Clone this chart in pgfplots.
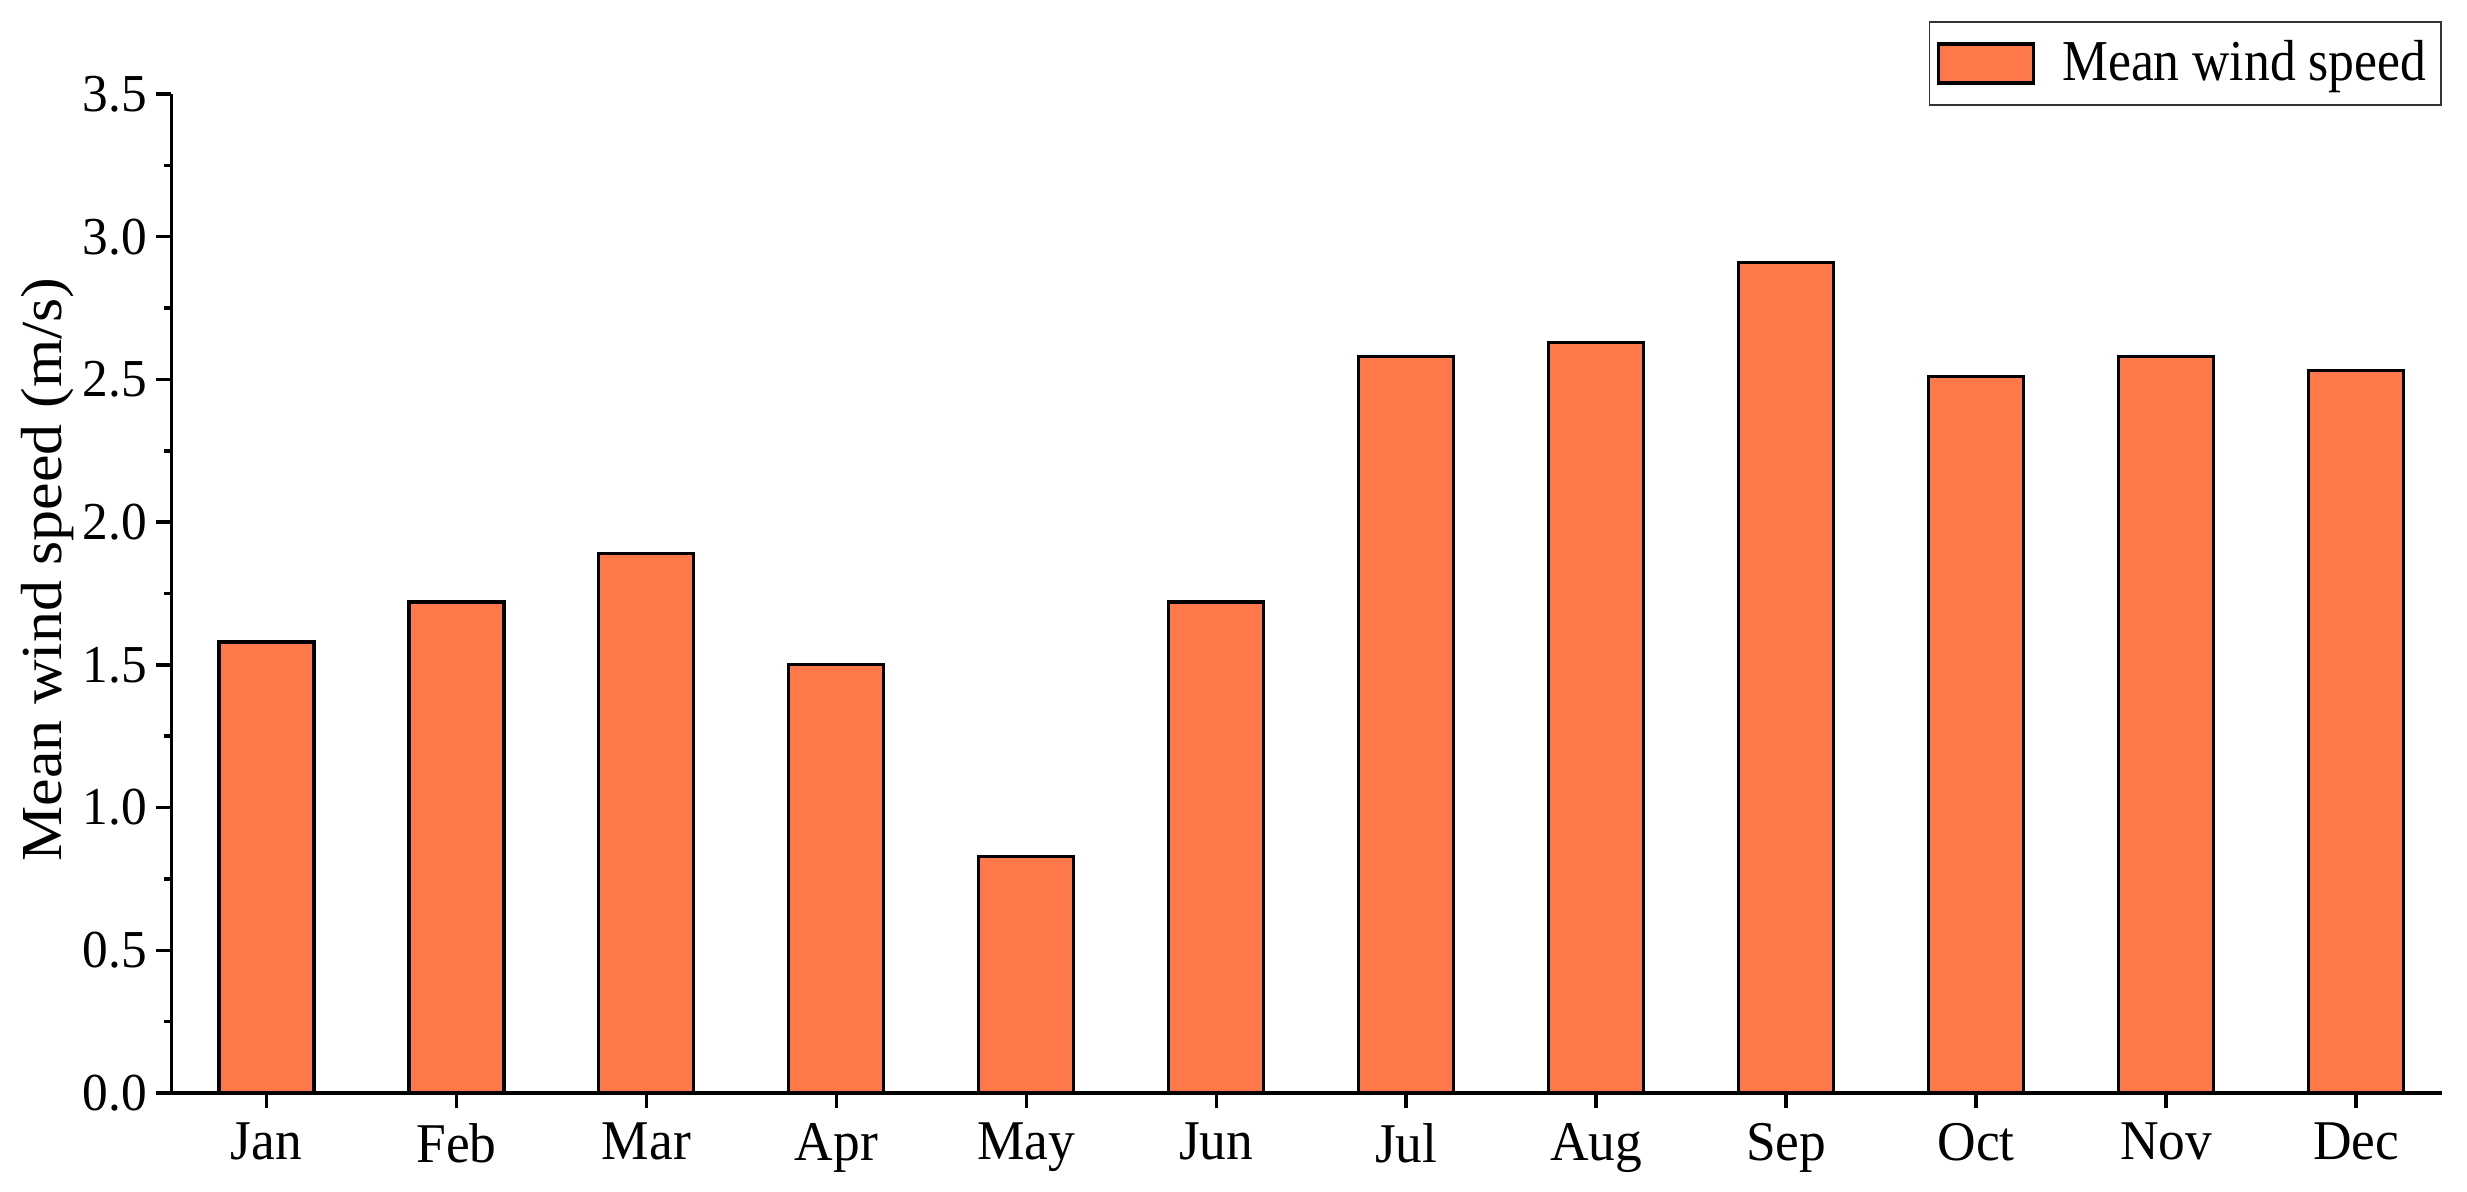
\documentclass[border=0pt]{standalone}
\usepackage{pgfplots}
\pgfplotsset{compat=1.18}
\usepackage{fontspec}
\setmainfont{Liberation Serif}
\definecolor{barOrange}{HTML}{FF7849}

\begin{document}
\begin{tikzpicture}
\useasboundingbox (-1.715,-0.98) rectangle (22.955,10.93);
\begin{axis}[
    scale only axis,
    width=22.7cm, height=9.99cm,
    ybar, bar width=0.5,
    xmin=0.5, xmax=12.45,
    ymin=0, ymax=3.5,
    xtick={1,...,12},
    xticklabels={Jan,Feb,Mar,Apr,May,Jun,Jul,Aug,Sep,Oct,Nov,Dec},
    ytick={0,0.5,...,3.5},
    minor y tick num=1,
    axis x line*=bottom, axis y line*=left,
    axis line style={line width=1pt, -},
    tick align=outside,
    major tick length=0.15cm, minor tick length=0.07cm,
    tick style={line width=1pt, black},
    x tick label style={font=\fontsize{15.2}{18}\selectfont, yscale=1.05, yshift=-0.02cm},
    y tick label style={font=\fontsize{14.6}{17}\selectfont, yscale=1.04, xshift=0.03cm,
        /pgf/number format/.cd, fixed, fixed zerofill, precision=1},
    /pgf/number format/assume math mode=true,
    ylabel={Mean wind speed (m/s)},
    every axis y label/.style={at={(axis description cs:-0.0546,0.524)}, rotate=90,
        xscale=1.07, anchor=center, font=\fontsize{16.5}{19}\selectfont},
    legend style={at={(rel axis cs:1,1)}, anchor=south east, yshift=-0.12cm,
        draw=black!80, line width=0.5pt, inner xsep=2pt, inner ysep=3pt,
        column sep=0.2cm,
        nodes={yscale=1.12},
        font=\fontsize{14.7}{17}\selectfont},
    legend image code/.code={\draw[#1, line width=1pt] (0cm,-0.195cm) rectangle (0.95cm,0.195cm);},
]
\addplot[fill=barOrange, draw=black, line width=0.9pt] coordinates {
    (1,1.58) (2,1.72) (3,1.89) (4,1.50) (5,0.83) (6,1.72)
    (7,2.58) (8,2.63) (9,2.91) (10,2.51) (11,2.58) (12,2.53)
};
\addlegendentry{Mean wind speed}
\end{axis}
\end{tikzpicture}
\end{document}
